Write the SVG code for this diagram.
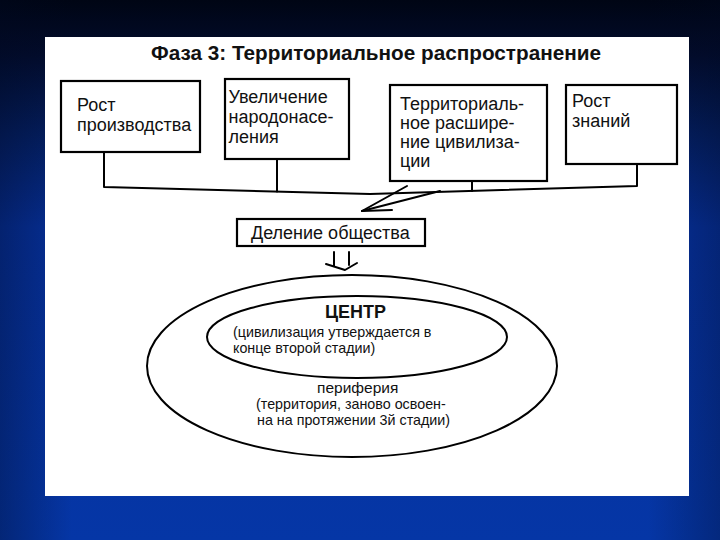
<svg xmlns="http://www.w3.org/2000/svg" width="720" height="540" viewBox="0 0 720 540">
<defs>
<linearGradient id="bg" x1="0" y1="0" x2="0" y2="1">
<stop offset="0" stop-color="#000514"/>
<stop offset="0.1" stop-color="#020c2c"/>
<stop offset="0.25" stop-color="#041f62"/>
<stop offset="0.42" stop-color="#06309a"/>
<stop offset="1" stop-color="#0536a6"/>
</linearGradient>
<linearGradient id="side" x1="0" y1="0" x2="1" y2="0">
<stop offset="0" stop-color="#000820" stop-opacity="0.35"/>
<stop offset="0.1" stop-color="#000820" stop-opacity="0"/>
<stop offset="0.9" stop-color="#000820" stop-opacity="0"/>
<stop offset="1" stop-color="#000820" stop-opacity="0.3"/>
</linearGradient>
</defs>
<style>
.box{fill:#ffffff;stroke:#000000;stroke-width:2.2}
.t{font-family:"Liberation Sans",Arial,sans-serif;font-size:18px;fill:#111111}
.s{font-family:"Liberation Sans",Arial,sans-serif;font-size:14.3px;fill:#111111}
.b{font-family:"Liberation Sans",Arial,sans-serif;font-weight:bold;fill:#111111}
.ln{fill:none;stroke:#000000;stroke-width:2;stroke-linejoin:round;stroke-linecap:round}
.el{fill:none;stroke:#000000;stroke-width:2}
</style>
<rect x="0" y="0" width="720" height="540" fill="url(#bg)"/>
<rect x="0" y="0" width="720" height="540" fill="url(#side)"/>
<rect x="45" y="37" width="644" height="459" fill="#ffffff"/>

<text id="title" class="b" x="376" y="60" font-size="19.5" text-anchor="middle" textLength="450" lengthAdjust="spacingAndGlyphs">Фаза 3: Территориальное распространение</text>

<g id="connectors">
<polyline class="ln" points="104,152 104,187 370,194 637,186 637,164"/>
<line class="ln" x1="277" y1="159" x2="277" y2="191.6"/>
<line class="ln" x1="472" y1="181" x2="472" y2="191"/>
<line class="ln" x1="407" y1="186" x2="362" y2="211"/>
<line class="ln" x1="440" y1="191" x2="362" y2="211"/>
<line class="ln" x1="362" y1="211" x2="392" y2="210"/>
<line class="ln" x1="334" y1="252" x2="334" y2="266"/>
<line class="ln" x1="349" y1="252" x2="349" y2="265"/>
<polyline class="ln" points="326,264 345,270 357,263"/>
</g>

<g id="n1">
<rect class="box" x="61" y="81" width="139" height="71"/>
<text class="t" x="77" y="111">Рост</text>
<text class="t" x="77" y="131">производства</text>
</g>

<g id="n2">
<rect class="box" x="225" y="79" width="124" height="80"/>
<text class="t" x="228.5" y="103">Увеличение</text>
<text class="t" x="228.5" y="123">народонасе-</text>
<text class="t" x="228.5" y="143">ления</text>
</g>

<g id="n3">
<rect class="box" x="390" y="85" width="157" height="96"/>
<text class="t" x="400" y="110">Территориаль-</text>
<text class="t" x="400" y="129">ное расшире-</text>
<text class="t" x="400" y="148">ние цивилиза-</text>
<text class="t" x="400" y="167">ции</text>
</g>

<g id="n4">
<rect class="box" x="566" y="85" width="111" height="79"/>
<text class="t" x="572" y="107">Рост</text>
<text class="t" x="572" y="127">знаний</text>
</g>

<g id="n5">
<rect class="box" x="237" y="219" width="188" height="27"/>
<text class="t" x="251" y="239">Деление общества</text>
</g>

<g id="n6">
<ellipse class="el" cx="352" cy="366" rx="205" ry="91"/>
<text class="s" x="317" y="393" style="font-size:15.5px">периферия</text>
<text class="s" x="256" y="409">(территория, заново освоен-</text>
<text class="s" x="257" y="425">на на протяжении 3й стадии)</text>
</g>

<g id="n7">
<ellipse class="el" cx="357" cy="337" rx="150" ry="41"/>
<text class="b" x="325" y="318" font-size="19" textLength="61" lengthAdjust="spacingAndGlyphs">ЦЕНТР</text>
<text class="s" x="233" y="337">(цивилизация утверждается в</text>
<text class="s" x="233" y="353">конце второй стадии)</text>
</g>
</svg>
